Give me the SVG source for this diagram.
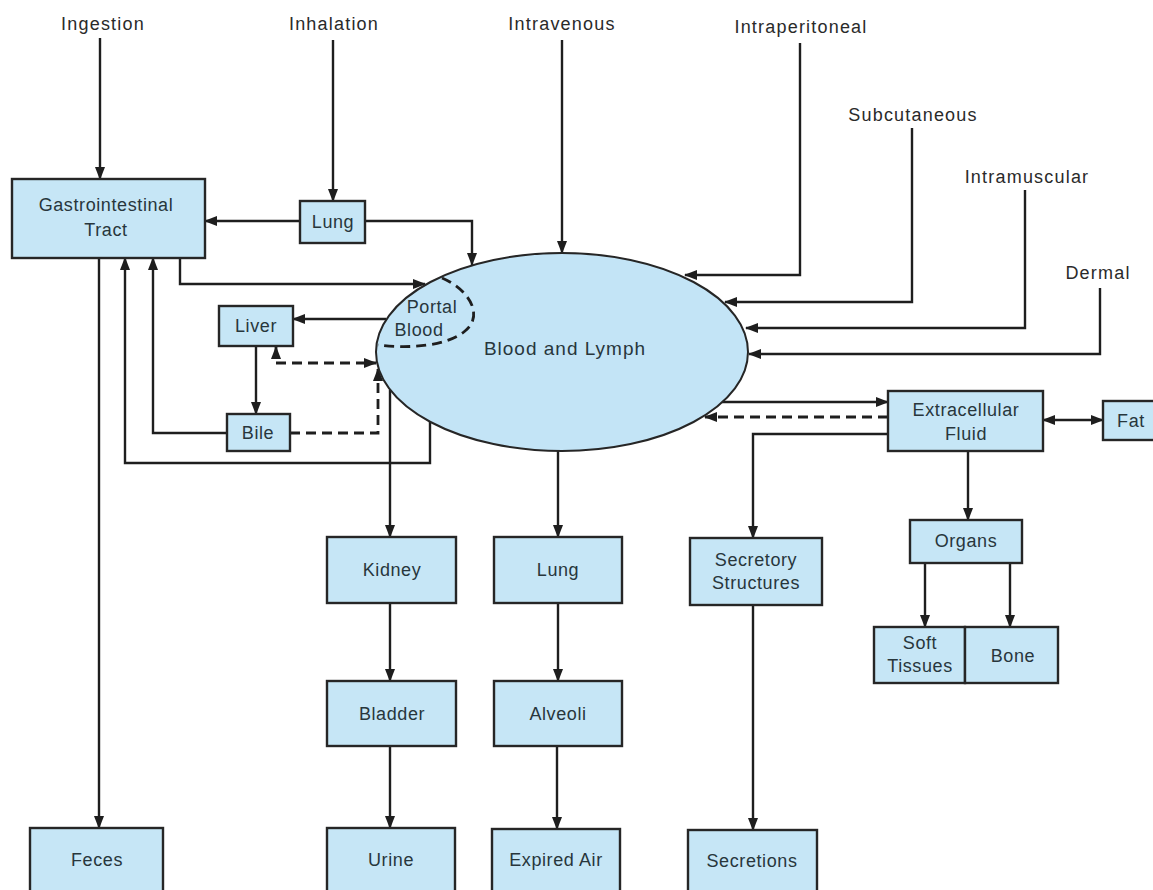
<svg xmlns="http://www.w3.org/2000/svg" width="1153" height="890" viewBox="0 0 1153 890">
<defs>
<marker id="ah" viewBox="0 0 13 10" refX="12" refY="5" markerWidth="13" markerHeight="10" markerUnits="userSpaceOnUse" orient="auto-start-reverse">
<path d="M0,0 L13,5 L0,10 Z" fill="#1e1e1e"/>
</marker>
<style>
.box{fill:#c6e6f6;stroke:#262626;stroke-width:2.4}
.t{font-family:"Liberation Sans",Arial,sans-serif;font-size:18px;fill:#28363c;text-anchor:middle;letter-spacing:0.6px}
.lab{font-family:"Liberation Sans",Arial,sans-serif;font-size:18px;fill:#2a2a2a;text-anchor:middle;letter-spacing:1.2px}
.c{fill:none;stroke:#1e1e1e;stroke-width:2.4}
.d{fill:none;stroke:#1e1e1e;stroke-width:2.8;stroke-dasharray:10,6}
</style>
</defs>
<rect width="1153" height="890" fill="#fff"/>

<g id="labels">
<text class="lab" x="103" y="30">Ingestion</text>
<text class="lab" x="334" y="30">Inhalation</text>
<text class="lab" x="562" y="30">Intravenous</text>
<text class="lab" x="801" y="33">Intraperitoneal</text>
<text class="lab" x="913" y="121">Subcutaneous</text>
<text class="lab" x="1027" y="183">Intramuscular</text>
<text class="lab" x="1098" y="279">Dermal</text>
</g>

<g id="connectors">
<path class="c" d="M100,38 V179" marker-end="url(#ah)"/>
<path class="c" d="M333,40 V201" marker-end="url(#ah)"/>
<path class="c" d="M562,40 V253" marker-end="url(#ah)"/>
<path class="c" d="M800,43 V275 H685" marker-end="url(#ah)"/>
<path class="c" d="M912,128 V302 H725" marker-end="url(#ah)"/>
<path class="c" d="M1025,190 V328 H746" marker-end="url(#ah)"/>
<path class="c" d="M1100,288 V354 H749" marker-end="url(#ah)"/>
<path class="c" d="M300,221 H205" marker-end="url(#ah)"/>
<path class="c" d="M365,221 H472 V265" marker-end="url(#ah)"/>
<path class="c" d="M180,258 V284 H425" marker-end="url(#ah)"/>
<path class="c" d="M386,319 H293" marker-end="url(#ah)"/>
<path class="c" d="M256,346 V414" marker-end="url(#ah)"/>
<path class="d" d="M276,347 V363 H376" marker-start="url(#ah)" marker-end="url(#ah)"/>
<path class="d" d="M290,433 H378 V369" marker-end="url(#ah)"/>
<path class="c" d="M227,433 H153 V258" marker-end="url(#ah)"/>
<path class="c" d="M430,422 V463 H125 V258" marker-end="url(#ah)"/>
<path class="c" d="M99,258 V828" marker-end="url(#ah)"/>
<path class="c" d="M390,390 V537" marker-end="url(#ah)"/>
<path class="c" d="M390,603 V681" marker-end="url(#ah)"/>
<path class="c" d="M390,746 V828" marker-end="url(#ah)"/>
<path class="c" d="M558,450 V537" marker-end="url(#ah)"/>
<path class="c" d="M558,603 V681" marker-end="url(#ah)"/>
<path class="c" d="M557,746 V829" marker-end="url(#ah)"/>
<path class="c" d="M722,402 H888" marker-end="url(#ah)"/>
<path class="d" d="M888,417 H705" marker-end="url(#ah)"/>
<path class="c" d="M888,434 H753 V538" marker-end="url(#ah)"/>
<path class="c" d="M753,605 V830" marker-end="url(#ah)"/>
<path class="c" d="M968,451 V520" marker-end="url(#ah)"/>
<path class="c" d="M925,563 V627" marker-end="url(#ah)"/>
<path class="c" d="M1010,563 V627" marker-end="url(#ah)"/>
<path class="c" d="M1043,420 H1103" marker-start="url(#ah)" marker-end="url(#ah)"/>
</g>

<g id="blood">
<ellipse cx="562" cy="352" rx="186" ry="99" fill="#c3e4f6" stroke="#262626" stroke-width="2"/>
<path class="d" d="M442,278 C470,290 484,316 465,331 C447,346 410,349 378,345"/>
<text class="t" x="432" y="313">Portal</text>
<text class="t" x="419" y="336">Blood</text>
<text class="t" x="565" y="355" style="font-size:19px;letter-spacing:1px">Blood and Lymph</text>
</g>

<g id="gi"><rect class="box" x="12" y="179" width="193" height="79"/>
<text class="t" x="106" y="211">Gastrointestinal</text><text class="t" x="106" y="236">Tract</text></g>
<g id="lung-top"><rect class="box" x="300" y="201" width="65" height="42"/><text class="t" x="333" y="228">Lung</text></g>
<g id="liver"><rect class="box" x="219" y="306" width="74" height="40"/><text class="t" x="256" y="332">Liver</text></g>
<g id="bile"><rect class="box" x="227" y="414" width="63" height="37"/><text class="t" x="258" y="439">Bile</text></g>
<g id="kidney"><rect class="box" x="327" y="537" width="129" height="66"/><text class="t" x="392" y="576">Kidney</text></g>
<g id="lung"><rect class="box" x="494" y="537" width="128" height="66"/><text class="t" x="558" y="576">Lung</text></g>
<g id="secretory"><rect class="box" x="690" y="538" width="132" height="67"/>
<text class="t" x="756" y="566">Secretory</text><text class="t" x="756" y="589">Structures</text></g>
<g id="bladder"><rect class="box" x="327" y="681" width="129" height="65"/><text class="t" x="392" y="720">Bladder</text></g>
<g id="alveoli"><rect class="box" x="494" y="681" width="128" height="65"/><text class="t" x="558" y="720">Alveoli</text></g>
<g id="feces"><rect class="box" x="30" y="828" width="133" height="70"/><text class="t" x="97" y="866">Feces</text></g>
<g id="urine"><rect class="box" x="327" y="828" width="128" height="70"/><text class="t" x="391" y="866">Urine</text></g>
<g id="expired"><rect class="box" x="492" y="829" width="128" height="70"/><text class="t" x="556" y="866">Expired Air</text></g>
<g id="secretions"><rect class="box" x="688" y="830" width="129" height="70"/><text class="t" x="752" y="867">Secretions</text></g>
<g id="extracellular"><rect class="box" x="888" y="391" width="155" height="60"/>
<text class="t" x="966" y="416">Extracellular</text><text class="t" x="966" y="440">Fluid</text></g>
<g id="fat"><rect class="box" x="1103" y="401" width="60" height="39"/><text class="t" x="1131" y="427">Fat</text></g>
<g id="organs"><rect class="box" x="910" y="520" width="112" height="43"/><text class="t" x="966" y="547">Organs</text></g>
<g id="soft"><rect class="box" x="874" y="627" width="91" height="56"/>
<text class="t" x="920" y="649">Soft</text><text class="t" x="920" y="672">Tissues</text></g>
<g id="bone"><rect class="box" x="965" y="627" width="93" height="56"/><text class="t" x="1013" y="662">Bone</text></g>
</svg>
